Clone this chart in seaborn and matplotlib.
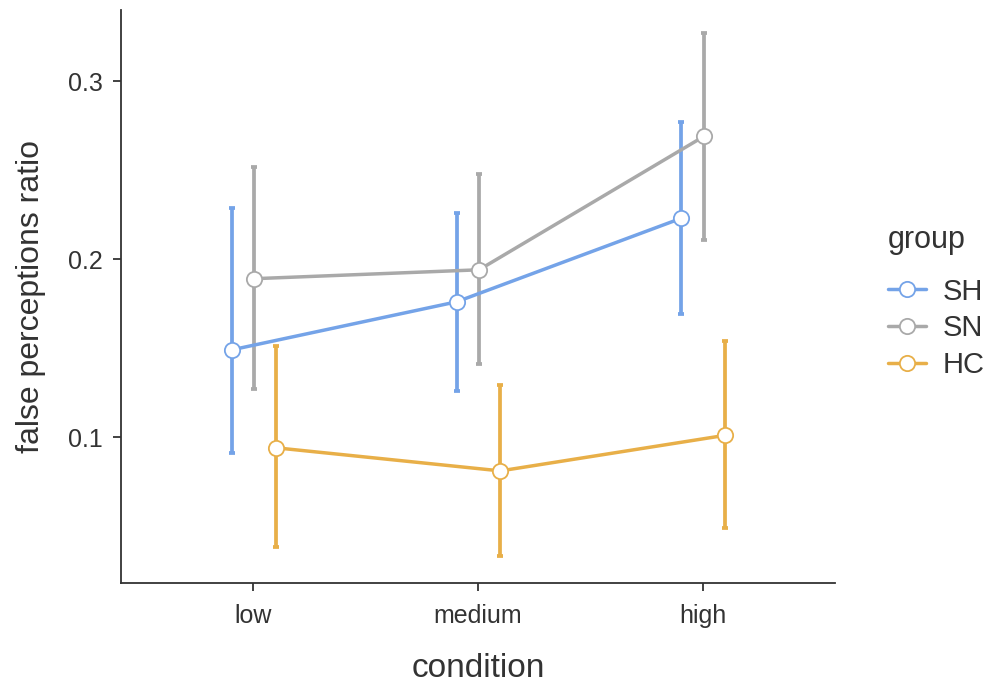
import numpy as np
import pandas as pd
import matplotlib
matplotlib.use('Agg')
import matplotlib.pyplot as plt
import seaborn as sns

conditions = ['low', 'medium', 'high']
groups = ['SH', 'SN', 'HC']
colors = {'SH': '#74A3E8', 'SN': '#A9A9A9', 'HC': '#E8AF48'}

# means and error-bar limits
sh_mean = [0.149, 0.176, 0.223]
sh_low = [0.091, 0.126, 0.169]
sh_high = [0.229, 0.226, 0.277]
sn_mean = [0.189, 0.194, 0.269]
sn_low = [0.127, 0.141, 0.211]
sn_high = [0.252, 0.248, 0.327]
hc_mean = [0.094, 0.081, 0.101]
hc_low = [0.038, 0.033, 0.049]
hc_high = [0.151, 0.129, 0.154]

rows = []
for g, m, lo, hi in [('SH', sh_mean, sh_low, sh_high),
                     ('SN', sn_mean, sn_low, sn_high),
                     ('HC', hc_mean, hc_low, hc_high)]:
    for i, c in enumerate(conditions):
        rows.append({'group': g, 'condition': c, 'ratio': m[i], 'lo': lo[i], 'hi': hi[i]})
df = pd.DataFrame(rows)

offsets = {'SH': -0.095, 'SN': 0.005, 'HC': 0.1}
df['x'] = df['condition'].map({c: i for i, c in enumerate(conditions)}) + df['group'].map(offsets)

sns.set_style('ticks')
plt.rcParams['font.family'] = ['Liberation Sans', 'DejaVu Sans']

fig = plt.figure(figsize=(9.88, 6.83), dpi=100)
ax = fig.add_axes([0.1225, 0.1464, 0.7225, 0.839])

sns.lineplot(data=df, x='x', y='ratio', hue='group', hue_order=groups, palette=colors,
             marker='o', markersize=11, markerfacecolor='white', markeredgewidth=1.3,
             linewidth=2.5, ax=ax, zorder=3)
for line in ax.lines:
    line.set_markeredgecolor(line.get_color())

for g in groups:
    d = df[df['group'] == g]
    ax.errorbar(d['x'], d['ratio'], yerr=[d['ratio'] - d['lo'], d['hi'] - d['ratio']],
                fmt='none', ecolor=colors[g], elinewidth=2.7, capsize=2, capthick=2.7, zorder=2)

ax.set_xlim(-0.587, 2.587)
ax.set_ylim(0.018, 0.34)
ax.set_xticks(range(len(conditions)))
ax.set_xticklabels(conditions)
ax.set_yticks([0.1, 0.2, 0.3])
ax.set_yticklabels(['0.1', '0.2', '0.3'])
ax.tick_params(axis='both', labelsize=18, colors='#333333', length=6, width=1.3, pad=7)
ax.tick_params(axis='x', pad=9)
for s in ['left', 'bottom']:
    ax.spines[s].set_linewidth(1.3)
    ax.spines[s].set_color('#333333')
sns.despine(ax=ax)
ax.set_xlabel('condition', fontsize=24, color='#333333', labelpad=18)
ax.set_ylabel('false perceptions ratio', fontsize=23, color='#333333', labelpad=16)

handles, labels = ax.get_legend_handles_labels()
for h in handles:
    h.set_markeredgecolor(h.get_color())
    h.set_markerfacecolor('white')
leg = ax.legend(handles, labels, title='group', loc='center left', bbox_to_anchor=(1.074, 0.49),
                frameon=False, fontsize=21, title_fontsize=22, handlelength=1.3,
                handletextpad=0.6, labelspacing=0.3, borderaxespad=0, borderpad=0)
leg._legend_box.align = 'left'
leg._legend_box.sep = 16
for t in leg.get_texts():
    t.set_color('#333333')
leg.get_title().set_color('#333333')

fig.savefig('out.png', dpi=100)
